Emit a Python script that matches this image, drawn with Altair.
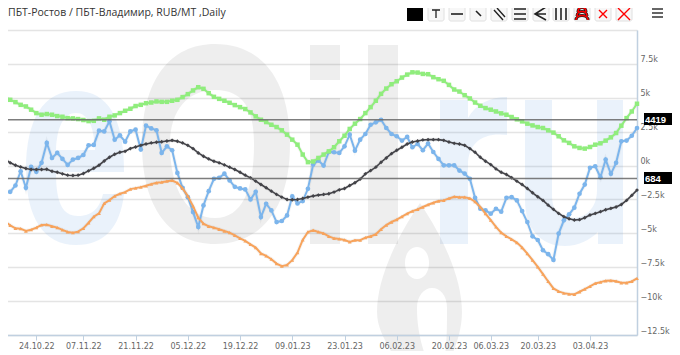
import altair as alt
import pandas as pd

TITLE = "ПБТ-Ростов / ПБТ-Владимир, RUB/MT ,Daily"
HOLIDAYS = ["2022-11-04", "2023-01-02", "2023-01-03", "2023-01-04", "2023-01-05",
            "2023-01-06", "2023-02-23", "2023-02-24", "2023-03-08"]
DATES = [d.strftime("%d.%m.%y") for d in pd.bdate_range("2022-10-14", "2023-04-14")
         if d.strftime("%Y-%m-%d") not in HOLIDAYS]
TICKS = ["24.10.22", "07.11.22", "21.11.22", "05.12.22", "19.12.22", "09.01.23",
         "23.01.23", "06.02.23", "20.02.23", "06.03.23", "20.03.23", "03.04.23"]
Y_TICKS = [-12500, -10000, -7500, -5000, -2500, 0, 2500, 5000, 7500, 10000]

GREEN = [5050, 4850, 4680, 4480, 4360, 4120, 3870, 3750, 3800, 3750, 3650, 3600, 3500, 3480, 3430, 3360,
         3280, 3300, 3480, 3380, 3600, 3700, 3870, 4040, 4190, 4390, 4480, 4600, 4650, 4730, 4700, 4700,
         4780, 4850, 5050, 5270, 5540, 5780, 5660, 5340, 5070, 4920, 4780, 4630, 4460, 4310, 4170, 3920,
         3630, 3380, 3210, 3010, 2840, 2600, 2280, 1910, 1540, 810, 250, 300, 560, 810, 1050, 1350, 1790,
         2200, 2700, 3090, 3430, 3870, 4310, 4780, 5290, 5680, 6000, 6220, 6490, 6710, 6880, 6860, 6760,
         6740, 6520, 6370, 6250, 5950, 5610, 5460, 5190, 4950, 4650, 4410, 4240, 4120, 3990, 3850, 3750,
         3580, 3410, 3260, 3090, 2960, 2840, 2770, 2600, 2430, 2160, 1860, 1670, 1420, 1300, 1250, 1370,
         1540, 1640, 1840, 2080, 2400, 2940, 3500, 3990, 4560]
BLUE = [-2010, -1935, -1470, -420, -1640, -100, -465, 200, 1670, 560, 930, 490, 50, 440, 560, 780, 1500,
        1520, 2570, 2520, 3260, 1910, 2230, 1760, 2520, 2650, 1180, 2940, 2740, 2600, 930, 1420, 1130,
        -540, -1640, -2330, -3430, -4530, -2940, -1890, -980, -900, -600, -1100, -1570, -1690, -1760,
        -2500, -1935, -3800, -2820, -3310, -4170, -4090, -3680, -2280, -2790, -2620, -1715, 70, 370, 0,
        1000, 980, 930, 1420, 2280, 1100, 1910, 2330, 3010, 3190, 3380, 2770, 2330, 2160, 1840, 2110,
        1350, 1590, 1130, 1620, 1000, 490, 20, 20, 20, -370, -590, -980, -2380, -3185, -3310, -3550,
        -3185, -3400, -2380, -2330, -2570, -3360, -4170, -5220, -5490, -6250, -6540, -6960, -5020, -4040,
        -3600, -3110, -2080, -1400, -170, -50, -860, 440, -610, 200, 1790, 1840, 2200, 2770]
BLACK = [490, 200, 25, -100, -220, -290, -290, -290, -270, -420, -490, -610, -710, -735, -710, -590, -390,
         -200, 25, 340, 610, 830, 980, 1050, 1250, 1370, 1490, 1590, 1670, 1715, 1760, 1810, 1860, 1790,
         1670, 1490, 1250, 930, 690, 490, 320, 200, 50, -120, -290, -490, -710, -906, -1150, -1400, -1640,
         -1890, -2130, -2330, -2500, -2520, -2500, -2430, -2330, -2250, -2180, -2130, -2080, -1960, -1790,
         -1690, -1470, -1270, -1000, -610, -370, -120, 245, 560, 880, 1130, 1350, 1590, 1740, 1810, 1890,
         1910, 1910, 1910, 1860, 1740, 1640, 1590, 1490, 1250, 980, 610, 320, 70, -245, -490, -660, -900,
         -1150, -1400, -1690, -2010, -2300, -2570, -2920, -3230, -3530, -3770, -3920, -4020, -3990, -3850,
         -3650, -3530, -3400, -3260, -3160, -3060, -2870, -2570, -2200, -1810]
ORANGE = [-4140, -4410, -4630, -4655, -4830, -4730, -4580, -4385, -4360, -4480, -4580, -4750, -4900, -4950,
          -4875, -4630, -4220, -3770, -3530, -2790, -2550, -2250, -2080, -1960, -1740, -1665, -1590, -1495,
          -1370, -1275, -1225, -1150, -1100, -1275, -1690, -2250, -2990, -3850, -4290, -4480, -4580, -4700,
          -4830, -4950, -5150, -5370, -5560, -5810, -6050, -6490, -6660, -6910, -7230, -7420, -7330, -6980,
          -6420, -5490, -4900, -4780, -4900, -5000, -5220, -5370, -5415, -5490, -5635, -5510, -5510, -5320,
          -5220, -5070, -4700, -4390, -4165, -3990, -3770, -3550, -3360, -3230, -3060, -2890, -2745, -2620,
          -2570, -2425, -2300, -2330, -2330, -2425, -2670, -3060, -3550, -4020, -4530, -4950, -5220, -5440,
          -5685, -6050, -6490, -6980, -7470, -8010, -8550, -9060, -9285, -9410, -9480, -9500, -9310, -9110,
          -8920, -8700, -8600, -8500, -8480, -8530, -8650, -8650, -8550, -8330]
LEVELS = [3380, -960]
LEVEL_LABELS = ["4419", "684"]

FONT = "DejaVu Sans"
OX, OY = -5, -30  # page pixel -> plot-group pixel


def shape(path, color, stroke=False, width=1.5, opacity=1.0):
    """Decoration drawn from a path written in page pixels (size 4 = 1 unit per pixel)."""
    kw = dict(shape=path, size=4, opacity=opacity)
    if stroke:
        kw.update(filled=False, stroke=color, strokeWidth=width, strokeCap="butt")
    else:
        kw.update(filled=True, fill=color, strokeWidth=0)
    return alt.Chart(pd.DataFrame({"a": [0]})).mark_point(**kw).encode(
        x=alt.value(OX), y=alt.value(OY))


def box(x0, y0, x1, y1, color, stroke=None, radius=0, opacity=1.0):
    kw = dict(fill=color, opacity=opacity)
    if stroke:
        kw.update(stroke=stroke, strokeWidth=1)
    if radius:
        kw.update(cornerRadius=radius)
    return alt.Chart(pd.DataFrame({"a": [0]})).mark_rect(**kw).encode(
        x=alt.value(x0 + OX), x2=alt.value(x1 + OX), y=alt.value(y0 + OY), y2=alt.value(y1 + OY))


# translucent, so the grid shows through as it does in the reference
WM_BLUE, WM_BLUE_OP = "#3C8CDC", 0.11
WM_GREY, WM_GREY_OP = "#000000", 0.065
watermark = [
    # e
    shape("M26 170 C26 118 44 91 76 91 C108 91 124 118 124 172 L56 172 C56 202 62 216 78 216 C94 216 100 206 103 194 "
          "L124 194 C120 228 104 245 76 245 C44 245 26 218 26 170 Z "
          "M56 150 L95 150 C94 126 88 113 76 113 C64 113 57 126 56 150 Z", WM_BLUE, opacity=WM_BLUE_OP),
    # O
    shape("M142 144 C142 80 170 44 215 44 C262 44 290 80 290 144 C290 208 262 244 215 244 C170 244 142 208 142 144 Z "
          "M170 144 C170 190 188 218 215 218 C242 218 254 190 254 144 C254 110 244 90 215 90 C188 90 170 110 170 144 Z",
          WM_GREY, opacity=WM_GREY_OP),
    # i, l
    box(310, 45, 340, 80, WM_GREY, opacity=WM_GREY_OP),
    box(310, 98, 340, 244, WM_GREY, opacity=WM_GREY_OP),
    box(368, 45, 398, 244, WM_GREY, opacity=WM_GREY_OP),
    # r
    shape("M440 100 L468 100 L468 118 C476 104 490 97 507 97 L507 135 C484 132 468 142 468 165 L468 244 L440 244 Z",
          WM_BLUE, opacity=WM_BLUE_OP),
    # u
    shape("M525 100 L552 100 L552 195 C552 212 560 218 572 218 C586 218 597 208 597 190 L597 100 L623 100 L623 244 "
          "L598 244 L598 232 C590 240 578 246 565 246 C540 246 525 228 525 200 Z", WM_BLUE, opacity=WM_BLUE_OP),
    # drop, with its two openings
    shape("M420 203 C445 240 462 280 462 312 C462 330 456 345 452 355 L445 355 C447 340 447 325 447 308 "
          "C447 295 440 288 432 288 C424 288 417 296 417 308 C417 325 420 340 425 355 L393 355 "
          "C385 340 377 328 377 312 C377 280 395 240 420 203 Z "
          "M417 247 C410 247 405 254 405 263 C405 272 410 279 417 279 C424 279 429 272 429 263 C429 254 424 247 417 247 Z",
          WM_GREY, opacity=WM_GREY_OP),
]

x_enc = alt.X("date:O", sort=None, scale=alt.Scale(type="point", padding=0, domain=DATES),
              axis=alt.Axis(values=TICKS, title=None, labelAngle=0, labelFont=FONT, labelFontSize=8,
                            labelColor="#666666", labelPadding=2, labelOverlap=False, labelFlush=False,
                            tickColor="#C0D0E0", tickSize=5, tickWidth=1, zindex=1,
                            domainColor="#C0D0E0", domainWidth=1.5, grid=False))
y_scale = alt.Scale(domain=[-12500, 10000], nice=False, zero=False)
y_enc = alt.Y("value:Q", scale=y_scale,
              axis=alt.Axis(orient="right", values=Y_TICKS, title=None, grid=True, gridColor="#E4E4E4",
                            gridWidth=1.5, ticks=False, labelFont=FONT, labelFontSize=8, labelColor="#666666",
                            labelPadding=3, labelOffset=-4, labelFlush=False, labelOverlap=False,
                            domainColor="#C0D0E0", domainWidth=1.5,
                            labelExpr="datum.value >= 10000 ? '' : format(datum.value / 1000, '.3~f') + 'k'"))


def series(values, color, shp, size, lw=2.0):
    d = pd.DataFrame({"date": DATES, "value": values})
    base = alt.Chart(d).encode(x=x_enc, y=y_enc)
    glow = base.mark_line(color="#000000", strokeWidth=4, opacity=0.04)
    line = base.mark_line(color=color, strokeWidth=lw)
    pts = base.mark_point(shape=shp, size=size, filled=True, color=color, opacity=1, strokeWidth=0)
    return [glow, line, pts]


layers = list(watermark)
layers += series(BLUE, "#7CB5EC", "circle", 22)
layers += series(BLACK, "#434348", "diamond", 15, lw=1.6)
layers += series(GREEN, "#90ED7D", "square", 20)
layers += series(ORANGE, "#F7A35C", "triangle-up", 14)

lv = pd.DataFrame({"value": LEVELS, "label": LEVEL_LABELS})
layers.append(alt.Chart(lv).mark_rule(color="#666666", strokeWidth=1.5, opacity=0.85).encode(
    y=y_enc, x=alt.value(-5), x2=alt.value(632)))
layers.append(box(644, 113, 673, 125, "#000000"))
layers.append(box(644, 172, 673, 184, "#000000"))
layers.append(alt.Chart(lv).mark_text(color="#FFFFFF", font="Liberation Sans", fontSize=9.5, fontWeight="bold",
                                      align="left", baseline="middle").encode(
    y=y_enc, x=alt.value(640), text="label:N"))

# title
layers.append(alt.Chart(pd.DataFrame({"t": [TITLE]})).mark_text(
    font="Open Sans", fontSize=10.5, color="#333333", align="left", baseline="alphabetic").encode(
    x=alt.value(3), y=alt.value(-14), text="t:N"))

# toolbar
layers.append(box(407, 6, 423, 21, "#000000"))
for x0 in [428, 449, 470, 491, 512, 533, 553, 574, 595, 616]:
    layers.append(box(x0, 6, x0 + 16, 21, "#F7F7F7", stroke="#E0E0E0", radius=2))
INK = "#222222"
layers.append(shape("M432 10 L440 10 M436 10 L436 18", INK, True, 1.3))
layers.append(shape("M451 14 L463 14", INK, True, 1.6))
layers.append(shape("M476 11 L481 16", INK, True, 1.6))
layers.append(shape("M494 10 L503 20 M497 8 L505 17", INK, True, 1.4))
layers.append(shape("M514 9 L526 9 M514 14 L526 14 M514 19 L526 19", INK, True, 1.6))
layers.append(shape("M546 7 L535 14 L546 20 M546 14 L535 14", INK, True, 1.6))
layers.append(shape("M556 8 L556 20 M561 8 L561 20 M566 8 L566 20", INK, True, 1.6))
layers.append(shape("M578 12 C578 6 586 6 586 12 M577 16 C577 10 587 10 587 16 M576 20 C576 14 588 14 588 20", "#222222", True, 3))
layers.append(shape("M578 12 C578 6 586 6 586 12 M577 16 C577 10 587 10 587 16 M576 20 C576 14 588 14 588 20", "#FF0000", True, 1.6))
layers.append(shape("M599 10 L607 18 M607 10 L599 18", "#FF0000", True, 1.4))
layers.append(shape("M618 8 L630 20 M630 8 L618 20", "#FF0000", True, 1.4))
layers.append(shape("M652 9 L663 9 M652 13 L663 13 M652 17 L663 17", "#666666", True, 1.8))

chart = alt.layer(*layers).properties(
    width=632, height=305,
    autosize=alt.AutoSizeParams(type="none"),
    padding={"left": -3, "top": 22, "right": 35, "bottom": 16},
    background="white",
).configure_view(stroke=None)

chart.save("out.html", embed_options={"renderer": "svg", "actions": False})
